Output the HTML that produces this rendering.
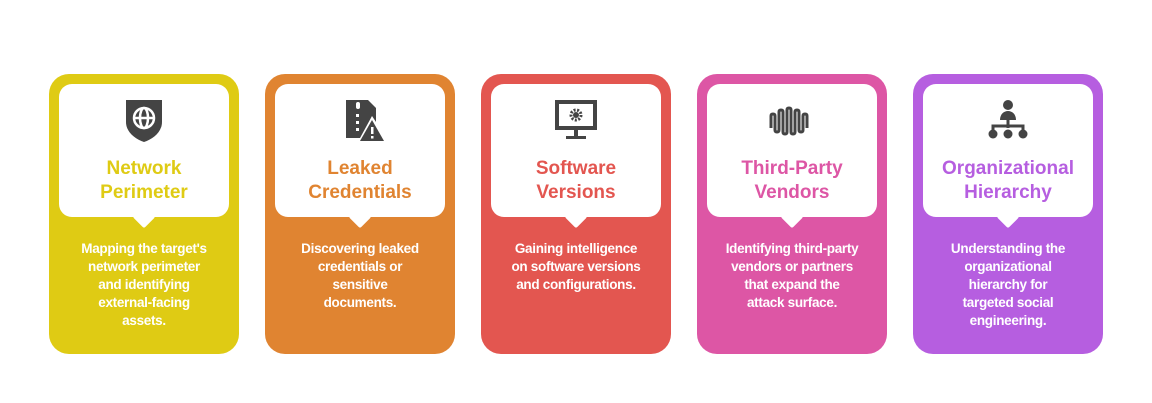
<!DOCTYPE html>
<html><head><meta charset="utf-8"><style>
body{margin:0;width:1152px;height:403px;background:#fff;position:relative;font-family:"Liberation Sans",Arial,sans-serif;overflow:hidden}
.card{position:absolute;top:74px;width:190px;height:280px;border-radius:20px}
.box{position:absolute;left:10px;top:10px;width:170px;height:133px;background:#fff;border-radius:13px}
.box:after{content:"";position:absolute;left:77px;bottom:-8px;width:16px;height:16px;background:#fff;transform:rotate(45deg);border-radius:2px}
.icon{position:absolute;left:61px;top:12px;width:48px;height:48px}
.t{position:absolute;left:0;right:0;top:73px;text-align:center;font-weight:bold;font-size:19px;line-height:24px}
.d{position:absolute;left:0;right:0;top:166px;text-align:center;color:#fff;font-size:13.5px;line-height:18px;font-weight:bold;letter-spacing:-0.3px;white-space:nowrap}
</style></head><body>
<div class="card" style="left:49px;background:#DFCB14"><div class="box">
<svg class="icon" viewBox="0 0 48 48"><path d="M6 4h36v22c0 10-9 17-18 20C15 43 6 36 6 26z" fill="#444"/><circle cx="24" cy="22" r="10" fill="none" stroke="#fff" stroke-width="2.5"/><ellipse cx="24" cy="22" rx="4" ry="10" fill="none" stroke="#fff" stroke-width="2.5"/><path d="M14 22h20" stroke="#fff" stroke-width="2.5"/></svg>
<div class="t" style="color:#DFCB14">Network<br>Perimeter</div></div>
<div class="d">Mapping the target's<br>network perimeter<br>and identifying<br>external-facing<br>assets.</div></div>

<div class="card" style="left:265px;background:#E08431"><div class="box">
<svg class="icon" viewBox="0 0 48 48"><path d="M10 4h22l8 8v14l-4-6-12 22H10z" fill="#444"/><rect x="20" y="6" width="4" height="7" rx="2" fill="#fff"/><rect x="20" y="18" width="3" height="3" fill="#fff"/><rect x="20" y="25" width="3" height="3" fill="#fff"/><rect x="20" y="32" width="3" height="3" fill="#fff"/><path d="M36 24l12 21H24z" fill="#444"/><rect x="35" y="31" width="2.5" height="7" fill="#fff"/><rect x="35" y="40" width="2.5" height="2.5" fill="#fff"/></svg>
<div class="t" style="color:#E08431">Leaked<br>Credentials</div></div>
<div class="d">Discovering leaked<br>credentials or<br>sensitive<br>documents.</div></div>

<div class="card" style="left:481px;background:#E35650"><div class="box">
<svg class="icon" viewBox="0 0 48 48"><rect x="3" y="4" width="42" height="30" fill="#444"/><rect x="7" y="8" width="34" height="22" fill="#fff"/><rect x="22" y="34" width="4" height="6" fill="#444"/><rect x="14" y="40" width="20" height="3" fill="#444"/><circle cx="24" cy="19" r="5" fill="none" stroke="#444" stroke-width="3" stroke-dasharray="2 1.5"/><circle cx="24" cy="19" r="3" fill="#444"/></svg>
<div class="t" style="color:#E35650">Software<br>Versions</div></div>
<div class="d">Gaining intelligence<br>on software versions<br>and configurations.</div></div>

<div class="card" style="left:697px;background:#DD56A5"><div class="box">
<svg class="icon" viewBox="0 0 48 48"><path d="M3 32V20q0-2 2-2t2 2v14q0 2 2 2t2-2V16q0-2 2-2t2 2v20q0 2 2 2t2-2V14q0-2 2-2t2 2v22q0 2 2 2t2-2V16q0-2 2-2t2 2v18q0 2 2 2t2-2V20q0-2 2-2t2 2v12" fill="none" stroke="#444" stroke-width="3"/></svg>
<div class="t" style="color:#DD56A5">Third-Party<br>Vendors</div></div>
<div class="d">Identifying third-party<br>vendors or partners<br>that expand the<br>attack surface.</div></div>

<div class="card" style="left:913px;background:#B65EE0"><div class="box">
<svg class="icon" viewBox="0 0 48 48"><circle cx="24" cy="9" r="5" fill="#444"/><path d="M16 24c0-6 4-9 8-9s8 3 8 9z" fill="#444"/><path d="M24 24v8M9 38v-8h30v8" fill="none" stroke="#444" stroke-width="3"/><circle cx="9" cy="38" r="4.5" fill="#444"/><circle cx="24" cy="38" r="4.5" fill="#444"/><circle cx="39" cy="38" r="4.5" fill="#444"/></svg>
<div class="t" style="color:#B65EE0">Organizational<br>Hierarchy</div></div>
<div class="d">Understanding the<br>organizational<br>hierarchy for<br>targeted social<br>engineering.</div></div>
</body></html>
